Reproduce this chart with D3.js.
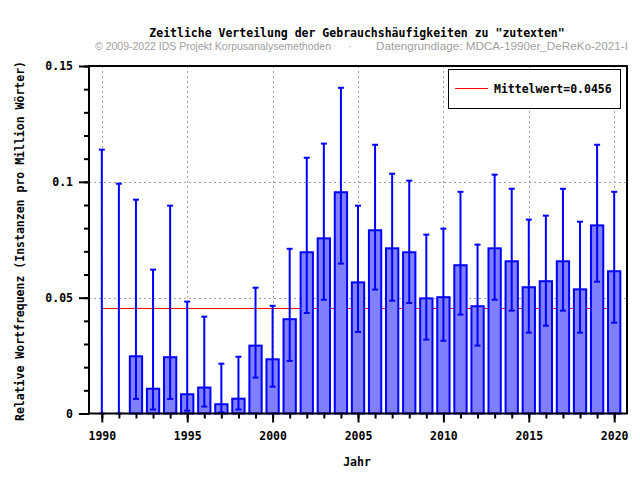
<!DOCTYPE html>
<html><head><meta charset="utf-8">
<script src="https://cdn.jsdelivr.net/npm/d3@7"></script>
<style>
body{margin:0;background:#fff;}
svg{display:block;}
.mono{font-family:"DejaVu Sans Mono",monospace;font-weight:bold;}
</style></head>
<body>
<svg id="chart" width="640" height="480"></svg>
<script>
const years = d3.range(1990, 2021);
const values = [0, 0, 0.0247, 0.0107, 0.0243, 0.0083, 0.0112, 0.0040, 0.0064, 0.0293,
  0.0234, 0.0407, 0.0696, 0.0756, 0.0955, 0.0566, 0.0791, 0.0713, 0.0696, 0.0497,
  0.0502, 0.0640, 0.0463, 0.0713, 0.0657, 0.0545, 0.0571, 0.0657, 0.0536, 0.0812, 0.0614];
const errHigh = [0.1139, 0.0992, 0.0923, 0.0621, 0.0897, 0.0483, 0.0418, 0.0215, 0.0245, 0.0543,
  0.0465, 0.0711, 0.1104, 0.1165, 0.1406, 0.0897, 0.1160, 0.1035, 0.1005, 0.0772,
  0.0798, 0.0957, 0.0729, 0.1031, 0.0970, 0.0837, 0.0854, 0.0970, 0.0828, 0.1160, 0.0957];
const errLow = [0, 0, 0.0063, 0.0017, 0.0063, 0.0012, 0.0030, 0.0005, 0.0017, 0.0155,
  0.0116, 0.0227, 0.0434, 0.0491, 0.0647, 0.0352, 0.0535, 0.0487, 0.0477, 0.0319,
  0.0314, 0.0427, 0.0293, 0.0491, 0.0444, 0.0349, 0.0379, 0.0444, 0.0349, 0.0569, 0.0392];
const meanValue = 0.0456;
const xMajorTicks = [1990, 1995, 2000, 2005, 2010, 2015, 2020];
const yMajorTicks = [0, 0.05, 0.1, 0.15];
const yTickLabels = ["0", "0.05", "0.1", "0.15"];
const yMinorTicks = d3.range(0, 16).map(i => i / 100);
const titleText = 'Zeitliche Verteilung der Gebrauchshäufigkeiten zu "zutexten"';
const subLeft = "© 2009-2022 IDS Projekt Korpusanalysemethoden";
const subRight = "Datengrundlage: MDCA-1990er_DeReKo-2021-I";
const xLabel = "Jahr";
const yLabel = "Relative Wortfrequenz (Instanzen pro Million Wörter)";
const legendLabel = "Mittelwert=0.0456";

const data = years.map((y, i) => ({year: y, value: values[i], hi: errHigh[i], lo: errLow[i]}));

const L = 89, R = 627, T = 66, B = 413.5;
const svg = d3.select("#chart");
const x = d3.scaleLinear().domain([1989.25, 2020.75]).range([L, R]);
const yS = d3.scaleLinear().domain([0, 0.15]).range([B, T]);

// grid
const grid = svg.append("g").attr("stroke", "#a0a0a0").attr("stroke-width", 1).attr("stroke-dasharray", "2,3");
xMajorTicks.forEach(t => grid.append("line").attr("x1", Math.round(x(t)) + 0.5).attr("x2", Math.round(x(t)) + 0.5).attr("y1", T).attr("y2", B));
[0.05, 0.1].forEach(t => grid.append("line").attr("x1", L).attr("x2", R).attr("y1", Math.round(yS(t)) + 0.5).attr("y2", Math.round(yS(t)) + 0.5));

// mean line
svg.append("line").attr("x1", x(1990)).attr("x2", x(2020)).attr("y1", Math.round(yS(meanValue)) + 0.5).attr("y2", Math.round(yS(meanValue)) + 0.5)
  .attr("stroke", "#ff0000").attr("stroke-width", 1);

// bars
const bw = 0.72;
svg.append("g").selectAll("rect").data(data.filter(d => d.value > 0)).join("rect")
  .attr("x", d => x(d.year - bw / 2)).attr("width", d => x(d.year + bw / 2) - x(d.year - bw / 2))
  .attr("y", d => yS(d.value)).attr("height", d => yS(0) - yS(d.value))
  .attr("fill", "#8080ff").attr("stroke", "#0000ff").attr("stroke-width", 2);

// error bars
const eg = svg.append("g").attr("stroke", "#0000ff").attr("stroke-width", 2);
data.forEach(d => {
  const cx = x(d.year);
  eg.append("line").attr("x1", cx).attr("x2", cx).attr("y1", yS(d.lo)).attr("y2", yS(d.hi));
  eg.append("line").attr("x1", cx - 3).attr("x2", cx + 3).attr("y1", yS(d.hi)).attr("y2", yS(d.hi));
  eg.append("line").attr("x1", cx - 3).attr("x2", cx + 3).attr("y1", yS(d.lo)).attr("y2", yS(d.lo));
});

// axes
const xMinor = d3.axisBottom(x).tickValues(years).tickSize(5).tickFormat("");
const xMajor = d3.axisBottom(x).tickValues(xMajorTicks).tickSize(9).tickPadding(9).tickFormat(d3.format("d"));
const yMinor = d3.axisLeft(yS).tickValues(yMinorTicks).tickSize(5).tickFormat("");
const yMajor = d3.axisLeft(yS).tickValues(yMajorTicks).tickSize(10).tickPadding(6).tickFormat((d, i) => yTickLabels[i]);
function styleAxis(g) {
  g.select(".domain").remove();
  g.selectAll(".tick line").attr("stroke", "#000").attr("stroke-width", 2);
  g.selectAll("text").attr("class", "mono").attr("font-size", 11.5).attr("fill", "#000");
}
svg.append("g").attr("transform", `translate(0,${B})`).call(xMinor).call(styleAxis);
svg.append("g").attr("transform", `translate(0,${B})`).call(xMajor).call(styleAxis);
svg.append("g").attr("transform", `translate(${L},0)`).call(yMinor).call(styleAxis);
svg.append("g").attr("transform", `translate(${L},0)`).call(yMajor).call(styleAxis);

// border
svg.append("rect").attr("x", L).attr("y", T).attr("width", R - L).attr("height", B - T)
  .attr("fill", "none").attr("stroke", "#000").attr("stroke-width", 2);

// legend
svg.append("rect").attr("x", 448.5).attr("y", 69.5).attr("width", 172).attr("height", 39)
  .attr("fill", "#fff").attr("stroke", "#000").attr("stroke-width", 1);
svg.append("line").attr("x1", 455).attr("x2", 488).attr("y1", 88.5).attr("y2", 88.5).attr("stroke", "#ff0000").attr("stroke-width", 1);
svg.append("text").attr("class", "mono").attr("x", 494).attr("y", 92.5).attr("font-size", 11.5).text(legendLabel);

// titles
svg.append("text").attr("class", "mono").attr("x", 357).attr("y", 37).attr("text-anchor", "middle").attr("font-size", 11.5).text(titleText);
const subStyle = s => s.attr("font-family", "'Liberation Sans', Arial, sans-serif").attr("font-size", 11).attr("fill", "#a0a0a0");
svg.append("text").call(subStyle).attr("x", 95).attr("y", 50).attr("textLength", 236).attr("lengthAdjust", "spacingAndGlyphs").text(subLeft);
svg.append("text").call(subStyle).attr("x", 350).attr("y", 50).attr("text-anchor", "middle").text("·");
svg.append("text").call(subStyle).attr("x", 376).attr("y", 50).attr("textLength", 252).attr("lengthAdjust", "spacingAndGlyphs").text(subRight);
svg.append("text").attr("class", "mono").attr("x", 357).attr("y", 466).attr("text-anchor", "middle").attr("font-size", 11.5).text(xLabel);
svg.append("text").attr("class", "mono").attr("transform", "translate(24,241) rotate(-90)").attr("text-anchor", "middle").attr("font-size", 11.5).text(yLabel);
</script>
</body></html>
